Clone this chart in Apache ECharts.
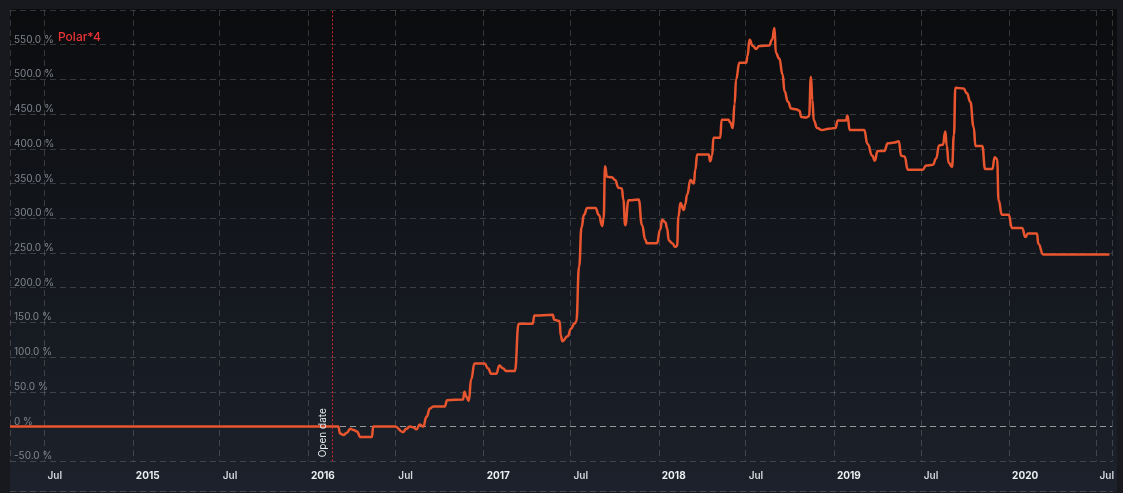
<!DOCTYPE html>
<html><head><meta charset="utf-8">
<script src="https://cdn.jsdelivr.net/npm/echarts@6/dist/echarts.min.js"></script>
<style>
html,body{margin:0;padding:0;background:#17191e;width:1123px;height:493px;overflow:hidden}
#chart{position:absolute;left:10px;top:9px;width:1107px;height:483px}
</style></head><body><div id="chart"></div>
<script>
// ---- data ----
const seriesName = 'Polar*4';
const openDate = '2016-02-21';
const openLabel = 'Open date';
const xMin = '2014-04-20';
const xMax = '2020-08-03';
const yMin = -50, yMax = 600, yStep = 50;
const dates = [
'2014-04-20','2016-03-04','2016-03-08','2016-03-15','2016-03-22','2016-03-29','2016-04-05','2016-04-12','2016-04-19','2016-05-13',
'2016-05-16','2016-06-30','2016-07-17','2016-07-24','2016-07-31','2016-08-07','2016-08-14','2016-08-21','2016-08-28','2016-09-04',
'2016-09-11','2016-09-18','2016-10-12','2016-10-17','2016-11-19','2016-11-22','2016-11-26','2016-12-01','2016-12-06','2016-12-13',
'2017-01-03','2017-01-10','2017-01-17','2017-01-27','2017-02-03','2017-02-10','2017-02-17','2017-03-07','2017-03-15','2017-04-13',
'2017-04-17','2017-05-25','2017-05-28','2017-06-08','2017-06-11','2017-06-14','2017-06-25','2017-07-02','2017-07-09','2017-07-13',
'2017-07-19','2017-07-24','2017-07-29','2017-08-05','2017-08-22','2017-08-29','2017-09-05','2017-09-08','2017-09-11','2017-09-15',
'2017-09-25','2017-10-02','2017-10-09','2017-10-16','2017-10-19','2017-10-23','2017-10-30','2017-11-20','2017-11-27','2017-12-04',
'2017-12-07','2017-12-28','2018-01-04','2018-01-08','2018-01-15','2018-01-18','2018-01-22','2018-01-29','2018-02-04','2018-02-08',
'2018-02-11','2018-02-15','2018-02-22','2018-02-25','2018-03-01','2018-03-08','2018-03-15','2018-03-18','2018-03-22','2018-04-15',
'2018-04-18','2018-04-22','2018-04-25','2018-05-09','2018-05-12','2018-05-26','2018-05-30','2018-06-04','2018-06-08','2018-06-11',
'2018-06-18','2018-07-02','2018-07-05','2018-07-09','2018-07-16','2018-07-23','2018-07-29','2018-08-19','2018-08-25','2018-08-30',
'2018-09-02','2018-09-09','2018-09-16','2018-09-20','2018-09-27','2018-10-04','2018-10-14','2018-10-21','2018-10-25','2018-11-04',
'2018-11-10','2018-11-14','2018-11-17','2018-11-20','2018-11-27','2018-12-07','2018-12-21','2019-01-04','2019-01-09','2019-01-26',
'2019-01-29','2019-02-03','2019-03-05','2019-03-12','2019-03-22','2019-03-27','2019-04-02','2019-04-16','2019-04-23','2019-05-07',
'2019-05-16','2019-05-21','2019-05-28','2019-06-04','2019-07-05','2019-07-12','2019-07-26','2019-08-02','2019-08-08','2019-08-16',
'2019-08-21','2019-08-24','2019-08-28','2019-09-04','2019-09-08','2019-09-11','2019-09-28','2019-10-05','2019-10-12','2019-10-19',
'2019-10-23','2019-11-06','2019-11-12','2019-11-27','2019-12-02','2019-12-07','2019-12-10','2019-12-17','2019-12-31','2020-01-07',
'2020-01-28','2020-02-04','2020-02-09','2020-02-28','2020-03-02','2020-03-12','2020-07-28'
];
const values = [
0,0,-10,-12,-9,-3,-5,-7,-15,-15,
0,0,-8,-3,0,-1,-4,3,0,14,
26,29,29,38,39,50,43,37,68,91,
91,84,76,76,88,84,80,80,148,148,
160,161,154,152,130,123,130,141,148,151,
231,287,305,315,315,305,289,300,375,360,
359,355,344,343,327,290,326,327,290,269,
264,264,284,298,294,286,268,264,259,260,
303,322,312,320,334,355,350,370,392,392,
382,390,416,416,442,442,438,430,465,500,
524,524,534,557,548,544,548,549,557,574,
538,530,507,483,468,458,457,455,446,445,
447,504,470,441,430,427,429,430,441,441,
448,427,427,407,390,383,397,397,408,409,
411,390,389,370,370,376,377,386,405,406,
425,405,380,374,420,488,487,480,468,432,
404,404,371,371,388,385,326,305,305,286,
286,273,278,278,263,248,248
];

// ---- chart ----
const gridColor = 'rgba(255,255,255,0.17)';
const zeroColor = 'rgba(255,255,255,0.55)';
const dash = [6, 4];
const nLines = (yMax - yMin) / yStep + 1;
const splitColors = [];
for (let i = 0; i < nLines; i++) splitColors.push(yMin + i * yStep === 0 ? zeroColor : gridColor);

const chart = echarts.init(document.getElementById('chart'));
chart.setOption({
  animation: false,
  backgroundColor: new echarts.graphic.LinearGradient(0, 0, 0, 1, [
    { offset: 0, color: '#0b0c0e' }, { offset: 1, color: '#1c212b' }
  ]),
  textStyle: { fontFamily: 'Inter, "Noto Sans", sans-serif' },
  legend: {
    left: 43, top: 16, selectedMode: false, itemWidth: 0, itemGap: 0,
    data: [{ name: seriesName, icon: 'none' }],
    textStyle: { color: '#ea3438', fontSize: 12, fontWeight: 500, padding: [0, 0, 0, -5] }
  },
  grid: { left: 0, right: 0, top: 1, bottom: 30.7 },
  xAxis: [{
    type: 'time', min: xMin, max: xMax, splitNumber: 12,
    axisLine: { show: false }, axisTick: { show: false },
    splitLine: { show: true, lineStyle: { color: gridColor, type: dash } },
    axisLabel: {
      margin: 10, align: 'left', padding: [0, 0, 0, 3],
      formatter: { year: '{yr|{yyyy}}', month: '{mo|{MMM}}' },
      rich: {
        yr: { color: '#eceef2', fontWeight: 'bold', fontSize: 10 },
        mo: { color: '#d4d7dc', fontWeight: 600, fontSize: 10 }
      }
    }
  }, {
    type: 'time', min: xMin, max: xMax, position: 'bottom', offset: 29.7,
    axisLine: { show: true, lineStyle: { color: gridColor, type: dash } },
    axisTick: { show: false }, axisLabel: { show: false }, splitLine: { show: false }
  }],
  yAxis: {
    type: 'value', min: yMin, max: yMax, interval: yStep,
    axisLine: { show: false }, axisTick: { show: false },
    axisLabel: {
      inside: true, margin: 4, verticalAlign: 'bottom', color: '#80858e', fontSize: 10,
      showMaxLabel: false,
      formatter: v => v === 0 ? '0 %' : v.toFixed(1) + ' %'
    },
    splitLine: { show: true, lineStyle: { color: splitColors, type: dash } }
  },
  series: [{
    name: seriesName, type: 'line', xAxisIndex: 0,
    data: dates.map((d, i) => [d, values[i]]),
    showSymbol: false, smooth: 0.5, smoothMonotone: 'x',
    lineStyle: { color: '#e9552e', width: 2.5 }, itemStyle: { color: '#e9552e' },
    markLine: {
      silent: true, symbol: ['none', 'none'],
      lineStyle: { color: '#c8242c', type: [2, 2], width: 1 },
      label: { show: true, position: 'insideStartTop', formatter: openLabel, color: '#eceef2', fontSize: 10, distance: [4, 4] },
      data: [{ xAxis: openDate }]
    }
  }]
});
</script></body></html>
